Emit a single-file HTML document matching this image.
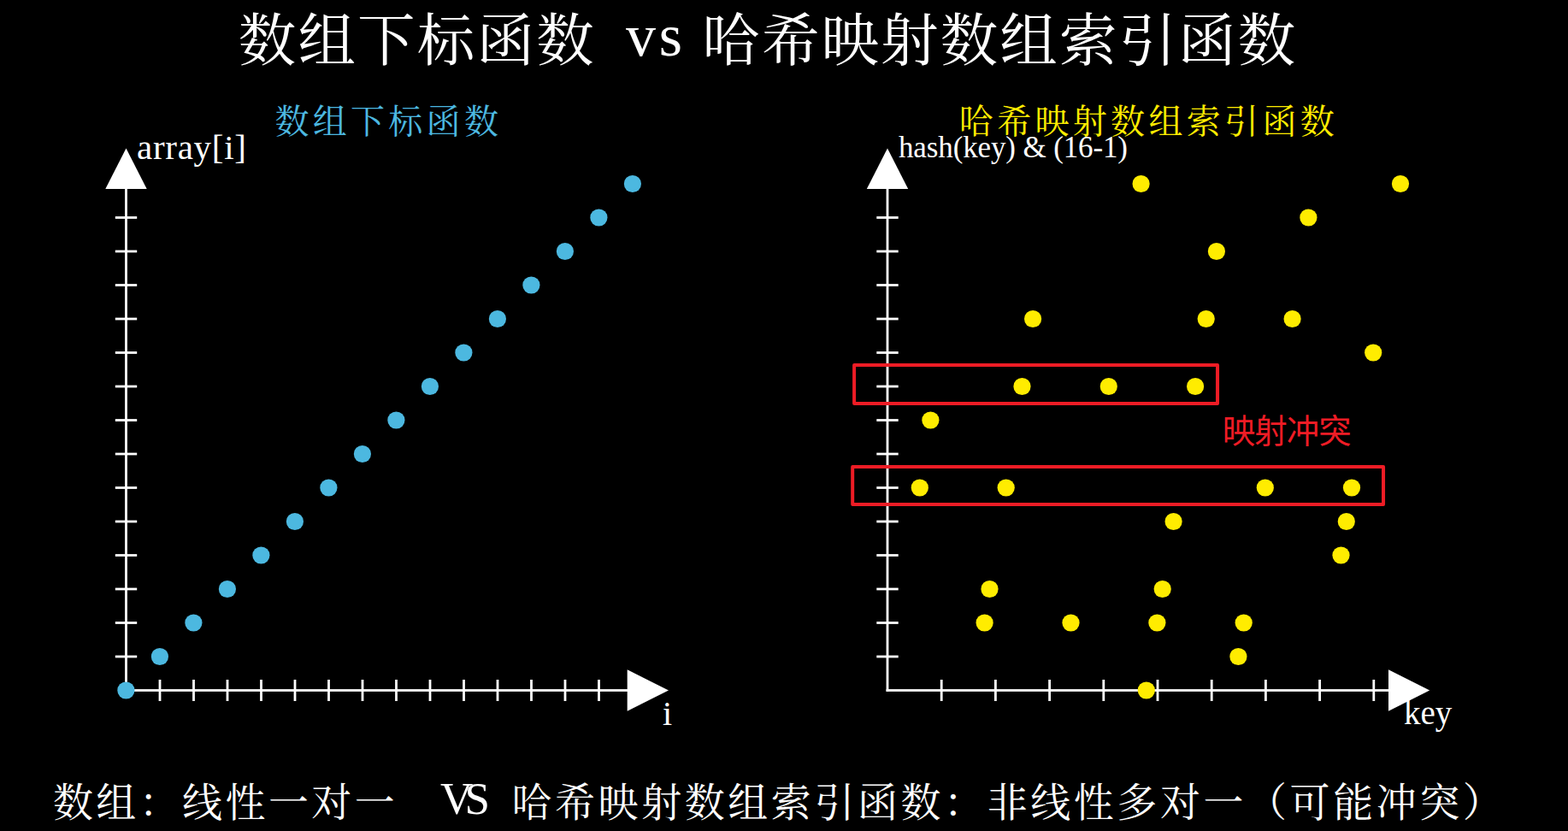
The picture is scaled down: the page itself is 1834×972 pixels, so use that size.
<!DOCTYPE html>
<html lang="zh"><head><meta charset="utf-8"><title>数组下标函数 vs 哈希映射数组索引函数</title>
<style>
html,body{margin:0;padding:0;background:#000;overflow:hidden;}
body{width:1834px;height:972px;font-family:"Liberation Serif",serif;}
svg{display:block;}
</style></head><body>
<svg width="1834" height="972" viewBox="0 0 1834 972">
<rect width="1834" height="972" fill="#000"/>
<title>数组下标函数 vs 哈希映射数组索引函数</title>
<desc>数组下标函数 vs 哈希映射数组索引函数。左图：数组下标函数 array[i] / i。右图：哈希映射数组索引函数 hash(key) &amp; (16-1) / key，映射冲突。数组：线性一对一 VS 哈希映射数组索引函数：非线性多对一（可能冲突）</desc>
<text x="278.7" y="70.6" font-family="'Liberation Serif','Noto Serif CJK SC',serif" font-size="67.5" letter-spacing="2.2" fill="#ffffff">数组下标函数</text>
<text x="821.3" y="70.6" font-family="'Liberation Serif','Noto Serif CJK SC',serif" font-size="67.5" letter-spacing="2.1" fill="#ffffff">哈希映射数组索引函数</text>
<text x="732" y="65.3" font-family="'Liberation Serif','Noto Serif CJK SC',serif" font-size="70" fill="#ffffff" textLength="66" lengthAdjust="spacing">vs</text>
<text x="321.5" y="155.9" font-family="'Liberation Serif','Noto Serif CJK SC',serif" font-size="40" letter-spacing="4.28" fill="#4cb8e0">数组下标函数</text>
<text x="1121.8" y="156.1" font-family="'Liberation Serif','Noto Serif CJK SC',serif" font-size="40" letter-spacing="4.33" fill="#ffec00">哈希映射数组索引函数</text>
<g fill="#fff"><rect x="146.10" y="220.00" width="2.80" height="588.90"/><rect x="146.10" y="806.10" width="588.60" height="2.80"/><polygon points="147.5,173.4 123.3,221.0 171.7,221.0"/><polygon points="782.0,807.5 733.7,783.3 733.7,831.7"/><rect x="134.80" y="766.60" width="25.4" height="2.80"/><rect x="134.80" y="727.10" width="25.4" height="2.80"/><rect x="134.80" y="687.60" width="25.4" height="2.80"/><rect x="134.80" y="648.10" width="25.4" height="2.80"/><rect x="134.80" y="608.60" width="25.4" height="2.80"/><rect x="134.80" y="569.10" width="25.4" height="2.80"/><rect x="134.80" y="529.60" width="25.4" height="2.80"/><rect x="134.80" y="490.10" width="25.4" height="2.80"/><rect x="134.80" y="450.60" width="25.4" height="2.80"/><rect x="134.80" y="411.10" width="25.4" height="2.80"/><rect x="134.80" y="371.60" width="25.4" height="2.80"/><rect x="134.80" y="332.10" width="25.4" height="2.80"/><rect x="134.80" y="292.60" width="25.4" height="2.80"/><rect x="134.80" y="253.10" width="25.4" height="2.80"/><rect x="185.60" y="795.00" width="2.80" height="25"/><rect x="225.10" y="795.00" width="2.80" height="25"/><rect x="264.60" y="795.00" width="2.80" height="25"/><rect x="304.10" y="795.00" width="2.80" height="25"/><rect x="343.60" y="795.00" width="2.80" height="25"/><rect x="383.10" y="795.00" width="2.80" height="25"/><rect x="422.60" y="795.00" width="2.80" height="25"/><rect x="462.10" y="795.00" width="2.80" height="25"/><rect x="501.60" y="795.00" width="2.80" height="25"/><rect x="541.10" y="795.00" width="2.80" height="25"/><rect x="580.60" y="795.00" width="2.80" height="25"/><rect x="620.10" y="795.00" width="2.80" height="25"/><rect x="659.60" y="795.00" width="2.80" height="25"/><rect x="699.10" y="795.00" width="2.80" height="25"/></g>
<g fill="#fff"><rect x="1036.60" y="220.00" width="2.80" height="588.90"/><rect x="1036.60" y="806.10" width="588.40" height="2.80"/><polygon points="1038.0,173.4 1013.8,221.0 1062.2,221.0"/><polygon points="1672.2,807.5 1624.0,783.3 1624.0,831.7"/><rect x="1025.30" y="766.60" width="25.4" height="2.80"/><rect x="1025.30" y="727.10" width="25.4" height="2.80"/><rect x="1025.30" y="687.60" width="25.4" height="2.80"/><rect x="1025.30" y="648.10" width="25.4" height="2.80"/><rect x="1025.30" y="608.60" width="25.4" height="2.80"/><rect x="1025.30" y="569.10" width="25.4" height="2.80"/><rect x="1025.30" y="529.60" width="25.4" height="2.80"/><rect x="1025.30" y="490.10" width="25.4" height="2.80"/><rect x="1025.30" y="450.60" width="25.4" height="2.80"/><rect x="1025.30" y="411.10" width="25.4" height="2.80"/><rect x="1025.30" y="371.60" width="25.4" height="2.80"/><rect x="1025.30" y="332.10" width="25.4" height="2.80"/><rect x="1025.30" y="292.60" width="25.4" height="2.80"/><rect x="1025.30" y="253.10" width="25.4" height="2.80"/><rect x="1099.80" y="795.00" width="2.80" height="25"/><rect x="1163.00" y="795.00" width="2.80" height="25"/><rect x="1226.20" y="795.00" width="2.80" height="25"/><rect x="1289.40" y="795.00" width="2.80" height="25"/><rect x="1352.60" y="795.00" width="2.80" height="25"/><rect x="1415.80" y="795.00" width="2.80" height="25"/><rect x="1479.00" y="795.00" width="2.80" height="25"/><rect x="1542.20" y="795.00" width="2.80" height="25"/><rect x="1605.40" y="795.00" width="2.80" height="25"/></g>
<g fill="#4cb8e0"><circle cx="147.4" cy="807.5" r="10.1"/><circle cx="186.9" cy="768.0" r="10.1"/><circle cx="226.4" cy="728.5" r="10.1"/><circle cx="265.9" cy="689.0" r="10.1"/><circle cx="305.4" cy="649.5" r="10.1"/><circle cx="344.9" cy="610.0" r="10.1"/><circle cx="384.4" cy="570.5" r="10.1"/><circle cx="423.9" cy="531.0" r="10.1"/><circle cx="463.4" cy="491.5" r="10.1"/><circle cx="502.9" cy="452.0" r="10.1"/><circle cx="542.4" cy="412.5" r="10.1"/><circle cx="581.9" cy="373.0" r="10.1"/><circle cx="621.4" cy="333.5" r="10.1"/><circle cx="660.9" cy="294.0" r="10.1"/><circle cx="700.4" cy="254.5" r="10.1"/><circle cx="739.9" cy="215.0" r="10.1"/></g>
<g fill="#ffec00"><circle cx="1334.6" cy="215.0" r="10.1"/><circle cx="1638.0" cy="215.0" r="10.1"/><circle cx="1530.4" cy="254.5" r="10.1"/><circle cx="1422.9" cy="294.0" r="10.1"/><circle cx="1208.1" cy="373.0" r="10.1"/><circle cx="1410.7" cy="373.0" r="10.1"/><circle cx="1511.6" cy="373.0" r="10.1"/><circle cx="1606.2" cy="412.5" r="10.1"/><circle cx="1195.5" cy="452.0" r="10.1"/><circle cx="1296.8" cy="452.0" r="10.1"/><circle cx="1398.1" cy="452.0" r="10.1"/><circle cx="1088.4" cy="491.5" r="10.1"/><circle cx="1075.8" cy="570.5" r="10.1"/><circle cx="1176.7" cy="570.5" r="10.1"/><circle cx="1479.8" cy="570.5" r="10.1"/><circle cx="1581.0" cy="570.5" r="10.1"/><circle cx="1372.6" cy="610.0" r="10.1"/><circle cx="1574.8" cy="610.0" r="10.1"/><circle cx="1568.5" cy="649.5" r="10.1"/><circle cx="1157.5" cy="689.0" r="10.1"/><circle cx="1359.7" cy="689.0" r="10.1"/><circle cx="1151.6" cy="728.5" r="10.1"/><circle cx="1252.5" cy="728.5" r="10.1"/><circle cx="1353.4" cy="728.5" r="10.1"/><circle cx="1454.7" cy="728.5" r="10.1"/><circle cx="1448.4" cy="768.0" r="10.1"/><circle cx="1340.8" cy="807.5" r="10.1"/></g>
<g fill="none" stroke="#ee1c25" stroke-width="4" stroke-linejoin="round"><rect x="999.1" y="427.05" width="424.95" height="44.95"/><rect x="997.2" y="546.05" width="620.85" height="44"/></g>
<text x="1429.8" y="518.4" font-family="'Liberation Sans','Noto Sans CJK SC',sans-serif" font-size="38.5" letter-spacing="-1" fill="#ee1c25">映射冲突</text>
<text x="160" y="185.6" font-family="'Liberation Serif',serif" font-size="41" fill="#ffffff" textLength="128" lengthAdjust="spacing">array[i]</text>
<text x="1051" y="184.4" font-family="'Liberation Serif',serif" font-size="35" fill="#ffffff" textLength="268" lengthAdjust="spacing">hash(key) &amp; (16-1)</text>
<text x="775" y="848" font-family="'Liberation Serif',serif" font-size="40" fill="#ffffff">i</text>
<text x="1642" y="846.8" font-family="'Liberation Serif',serif" font-size="39" fill="#ffffff">key</text>
<text x="61.9" y="954.8" font-family="'Liberation Serif','Noto Serif CJK SC',serif" font-size="47" letter-spacing="3.4" fill="#ffffff">数组：线性一对一</text>
<text x="515" y="952.2" font-family="'Liberation Serif',serif" font-size="53" fill="#ffffff" textLength="58" lengthAdjust="spacing">VS</text>
<text x="598.5" y="954.8" font-family="'Liberation Serif','Noto Serif CJK SC',serif" font-size="47" letter-spacing="3.56" fill="#ffffff">哈希映射数组索引函数：非线性多对一（可能冲突）</text>
</svg>
</body></html>
